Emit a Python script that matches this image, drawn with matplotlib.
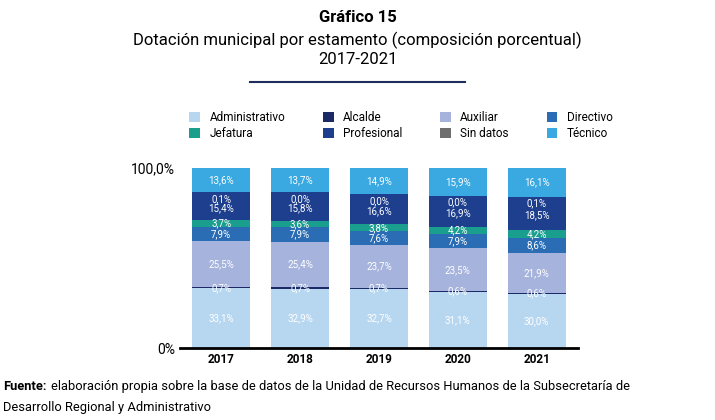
import matplotlib
matplotlib.use("Agg")
import matplotlib.pyplot as plt
import numpy as np

years = ["2017", "2018", "2019", "2020", "2021"]
categories = ["Administrativo", "Alcalde", "Auxiliar", "Directivo", "Jefatura", "Profesional", "Sin datos", "Técnico"]
administrativo = [33.1, 32.9, 32.7, 31.1, 30.0]
alcalde = [0.7, 0.7, 0.7, 0.6, 0.6]
auxiliar = [25.5, 25.4, 23.7, 23.5, 21.9]
directivo = [7.9, 7.9, 7.6, 7.9, 8.6]
jefatura = [3.7, 3.6, 3.8, 4.2, 4.2]
profesional = [15.4, 15.8, 16.6, 16.9, 18.5]
sin_datos = [0.1, 0.0, 0.0, 0.0, 0.1]
tecnico = [13.6, 13.7, 14.9, 15.9, 16.1]
series = [administrativo, alcalde, auxiliar, directivo, jefatura, profesional, sin_datos, tecnico]
colors = ["#b7d7f1", "#1b2a66", "#a5b3dd", "#2a6db5", "#1a9f8e", "#1d3f8e", "#6e6e6e", "#3aa9e1"]

plt.rcParams['font.family'] = ['Roboto', 'DejaVu Sans']
fig = plt.figure(figsize=(7.15, 4.2), dpi=100)
ax = fig.add_axes([0.252, 0.171, 0.556, 0.43])
x = np.arange(len(years))
bottom = np.zeros(len(years))
handles = []
for name, vals, c in zip(categories, series, colors):
    vals = np.array(vals)
    h = ax.bar(x, vals, 0.74, bottom=bottom, color=c, label=name)
    handles.append(h)
    for i, v in enumerate(vals):
        if name == "Sin datos":
            yy = bottom[i] - 3.6
        elif name == "Profesional":
            yy = bottom[i] + v / 2 - 1.0
        else:
            yy = bottom[i] + v / 2
        ax.text(x[i], yy, f"{v:.1f}%".replace(".", ","), ha="center", va="center",
                color="white", fontsize=7)
    bottom += vals

ax.set_xlim(-0.52, 4.52)
ax.set_ylim(0, 100)
ax.set_yticks([0, 100])
ax.set_yticklabels(["0%", "100,0%"], fontsize=10)
ax.set_xticks(x)
ax.set_xticklabels(years, fontsize=8.5, fontweight="bold")
for s in ["top", "right", "left"]:
    ax.spines[s].set_visible(False)
ax.spines["bottom"].set_linewidth(2)
ax.tick_params(length=0)

order = [0, 4, 1, 5, 2, 6, 3, 7]
fig.legend([handles[i] for i in order], [categories[i] for i in order],
           loc="upper left", bbox_to_anchor=(0.25, 0.76), ncol=4, frameon=False,
           fontsize=8.5, handlelength=0.9, handleheight=0.9, columnspacing=3.2,
           labelspacing=0.2, handletextpad=0.8)

fig.text(0.5, 0.975, "Gráfico 15", ha="center", va="top", fontsize=12, fontweight="bold")
fig.text(0.5, 0.925, "Dotación municipal por estamento (composición porcentual)", ha="center", va="top", fontsize=12)
fig.text(0.5, 0.875, "2017-2021", ha="center", va="top", fontsize=12)
fig.add_artist(plt.Line2D([0.349, 0.651], [0.805, 0.805], color="#1d2d5e", lw=1.5))

fig.text(0.004, 0.095, "Fuente:", fontsize=9.3, fontweight="bold", va="top")
fig.text(0.072, 0.095, "elaboración propia sobre la base de datos de la Unidad de Recursos Humanos de la Subsecretaría de",
         fontsize=9.3, va="top")
fig.text(0.004, 0.045, "Desarrollo Regional y Administrativo", fontsize=9.3, va="top")

fig.savefig("out.png", dpi=100)
